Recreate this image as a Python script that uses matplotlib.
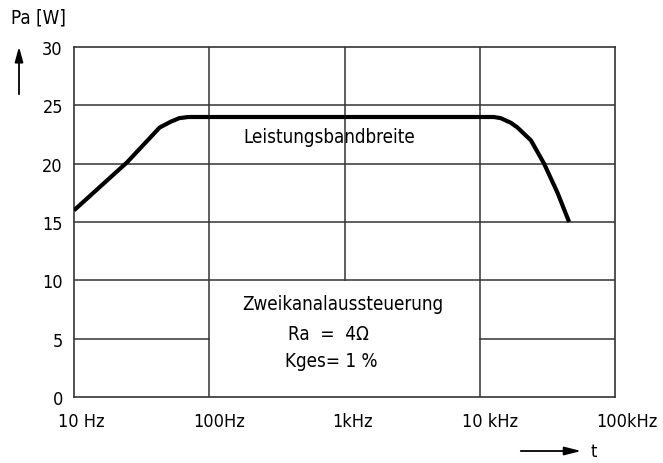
import matplotlib
matplotlib.use("Agg")
import matplotlib.pyplot as plt
from matplotlib.transforms import ScaledTranslation

plt.rcParams['font.family'] = ['DejaVu Sans']
plt.rcParams['font.stretch'] = 'condensed'

# curve
freq = [10, 24.6, 43, 52, 60, 70, 100, 10000, 12700, 14300, 17000, 19000, 23900, 29900, 37600, 45800]
power = [16.0, 20.1, 23.1, 23.6, 23.9, 24.0, 24.0, 24.0, 24.0, 23.9, 23.5, 23.1, 22.0, 20.0, 17.5, 15.0]

x_ticks = [10, 100, 1000, 10000, 100000]
x_labels = ["10 Hz", "100Hz", "1kHz", "10 kHz", "100kHz"]
x_label_shift = [7, 10, 8, 10, 12]  # px
y_ticks = [0, 5, 10, 15, 20, 25, 30]

fig = plt.figure(figsize=(6.63, 4.64), dpi=100)
ax = fig.add_axes([74 / 663, 66 / 464, (615 - 74) / 663, 350 / 464])
ax.set_xscale('log')
ax.set_xlim(10, 100000)
ax.set_ylim(0, 30)

gc = '#333333'
for y in [10, 15, 20, 25]:
    ax.axhline(y, color=gc, lw=1.1, zorder=1)
# the 5 W line is broken where the text block sits
ax.plot([10, 100], [5, 5], color=gc, lw=1.1, zorder=1)
ax.plot([10000, 100000], [5, 5], color=gc, lw=1.1, zorder=1)
ax.axvline(100, color=gc, lw=1.1, zorder=1)
ax.axvline(10000, color=gc, lw=1.1, zorder=1)
ax.plot([1000, 1000], [10, 30], color=gc, lw=1.1, zorder=1)
for s in ax.spines.values():
    s.set_color(gc)
    s.set_linewidth(1.2)

ax.plot(freq, power, color='black', lw=3.0, solid_capstyle='butt', solid_joinstyle='round', zorder=3)

ax.set_xticks(x_ticks)
ax.set_xticklabels(x_labels)
ax.minorticks_off()
ax.set_yticks(y_ticks)
ax.tick_params(length=0, labelsize=13, colors='black')
ax.tick_params(axis='x', pad=11)
ax.tick_params(axis='y', pad=8)
for lab, dx in zip(ax.get_xticklabels(), x_label_shift):
    lab.set_transform(lab.get_transform() + ScaledTranslation(dx / 100, 0, fig.dpi_scale_trans))

fs = 13.5
ax.text(776, 22.3, "Leistungsbandbreite", ha='center', va='center', fontsize=fs)
ax.text(966, 8.0, "Zweikanalaussteuerung", ha='center', va='center', fontsize=fs)
ax.text(385, 5.4, "Ra  =  4Ω", ha='left', va='center', fontsize=fs)
ax.text(366, 3.1, "Kges= 1 %", ha='left', va='center', fontsize=fs)

# axis captions with arrows
fig.text(11 / 663, 1 - 18 / 464, "Pa [W]", ha='left', va='center', fontsize=13.5)
fig.add_artist(matplotlib.patches.FancyArrowPatch(
    (19 / 663, 1 - 98 / 464), (19 / 663, 1 - 45 / 464), transform=fig.transFigure,
    arrowstyle='-|>,head_length=9,head_width=2.5', color='black', lw=1.3))
fig.add_artist(matplotlib.patches.FancyArrowPatch(
    (518 / 663, 1 - 452 / 464), (584 / 663, 1 - 452 / 464), transform=fig.transFigure,
    arrowstyle='-|>,head_length=10,head_width=2.5', color='black', lw=1.3))
fig.text(594 / 663, 1 - 452 / 464, "t", ha='center', va='center', fontsize=13)

fig.savefig("out.png", dpi=100)
